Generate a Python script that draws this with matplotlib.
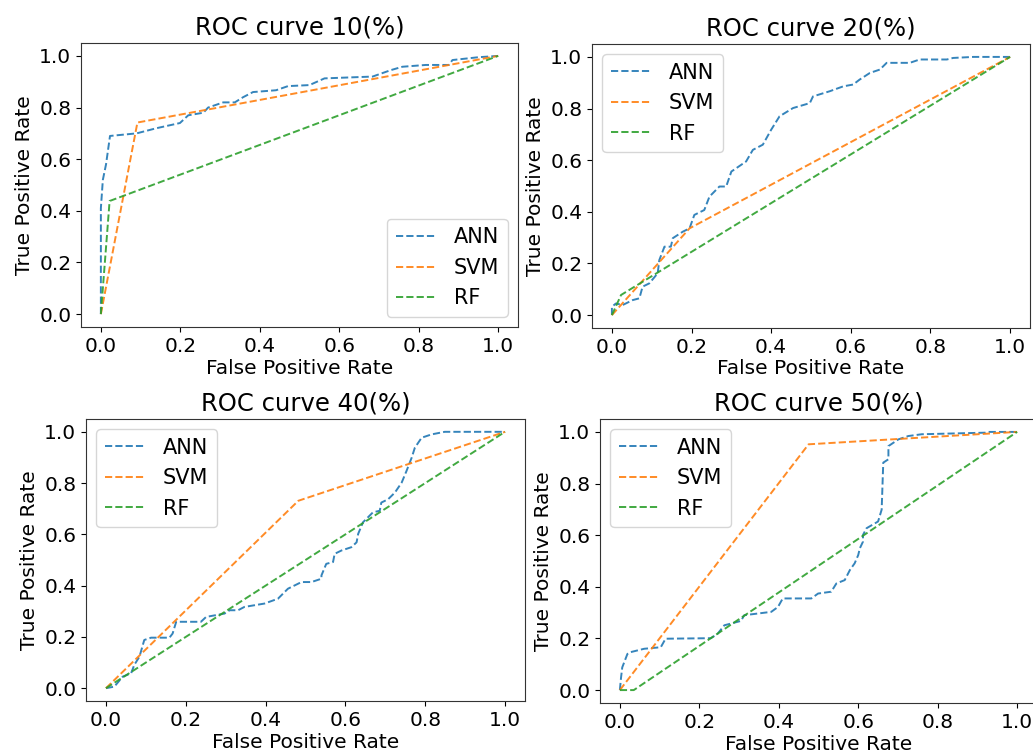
import numpy as np
import matplotlib
matplotlib.use('Agg')
from matplotlib import pyplot as plt

# ---- data (fpr, tpr) ----
titles = ['ROC curve 10(%)', 'ROC curve 20(%)', 'ROC curve 40(%)', 'ROC curve 50(%)']
models = ['ANN', 'SVM', 'RF']

ann10_fpr = [0.0, 0.0, 0.005, 0.013, 0.023, 0.090, 0.140, 0.199, 0.220, 0.258, 0.270, 0.308, 0.337,
             0.358, 0.383, 0.441, 0.471, 0.525, 0.563, 0.684, 0.730, 0.759, 0.818, 0.876, 0.885, 0.951, 1.0]
ann10_tpr = [0.0, 0.41, 0.52, 0.58, 0.69, 0.70, 0.72, 0.74, 0.77, 0.78, 0.80, 0.82, 0.82,
             0.84, 0.86, 0.867, 0.883, 0.887, 0.913, 0.92, 0.945, 0.958, 0.965, 0.965, 0.984, 0.995, 1.0]
svm10_fpr = [0.0, 0.092, 1.0]
svm10_tpr = [0.0, 0.742, 1.0]
rf10_fpr = [0.0, 0.022, 1.0]
rf10_tpr = [0.0, 0.438, 1.0]

ann20_fpr = [0.0, 0.0, 0.010, 0.027, 0.052, 0.069, 0.077, 0.094, 0.115, 0.119, 0.132, 0.148, 0.153,
             0.178, 0.195, 0.207, 0.232, 0.245, 0.270, 0.287, 0.300, 0.337, 0.354, 0.379, 0.400, 0.421,
             0.455, 0.497, 0.505, 0.547, 0.581, 0.606, 0.622, 0.648, 0.673, 0.690, 0.748, 0.773, 0.841,
             0.857, 0.908, 1.0]
ann20_tpr = [0.0, 0.032, 0.045, 0.039, 0.058, 0.065, 0.110, 0.123, 0.162, 0.213, 0.265, 0.265, 0.298,
             0.323, 0.336, 0.388, 0.407, 0.459, 0.498, 0.498, 0.556, 0.595, 0.640, 0.660, 0.718, 0.770,
             0.802, 0.821, 0.847, 0.867, 0.886, 0.893, 0.912, 0.938, 0.951, 0.977, 0.977, 0.990, 0.990,
             0.996, 1.0, 1.0]
svm20_fpr = [0.0, 0.195, 1.0]
svm20_tpr = [0.0, 0.336, 1.0]
rf20_fpr = [0.0, 0.023, 1.0]
rf20_tpr = [0.0, 0.078, 1.0]

ann40_fpr = [0.0, 0.021, 0.042, 0.063, 0.071, 0.084, 0.096, 0.113, 0.159, 0.167, 0.176, 0.238, 0.251,
             0.297, 0.310, 0.331, 0.347, 0.397, 0.431, 0.456, 0.490, 0.515, 0.540, 0.540, 0.552, 0.569,
             0.573, 0.590, 0.615, 0.628, 0.632, 0.644, 0.669, 0.686, 0.690, 0.707, 0.724, 0.741, 0.753,
             0.766, 0.774, 0.791, 0.816, 0.849, 1.0]
ann40_tpr = [0.0, 0.006, 0.045, 0.058, 0.091, 0.123, 0.188, 0.197, 0.197, 0.213, 0.259, 0.259, 0.278,
             0.291, 0.304, 0.304, 0.317, 0.330, 0.349, 0.388, 0.414, 0.414, 0.427, 0.440, 0.485, 0.492,
             0.524, 0.537, 0.550, 0.569, 0.602, 0.647, 0.686, 0.692, 0.724, 0.737, 0.763, 0.802, 0.847,
             0.899, 0.938, 0.977, 0.990, 1.0, 1.0]
svm40_fpr = [0.0, 0.482, 1.0]
svm40_tpr = [0.0, 0.731, 1.0]
rf40_fpr = [0.0, 1.0]
rf40_tpr = [0.0, 1.0]

ann50_fpr = [0.0, 0.003, 0.006, 0.019, 0.027, 0.061, 0.103, 0.115, 0.229, 0.246, 0.263, 0.305, 0.313,
             0.381, 0.398, 0.410, 0.482, 0.499, 0.532, 0.545, 0.566, 0.579, 0.591, 0.600, 0.604, 0.612,
             0.612, 0.621, 0.650, 0.659, 0.663, 0.676, 0.676, 0.701, 0.726, 0.760, 0.920, 0.928, 1.0]
ann50_tpr = [0.0, 0.049, 0.088, 0.140, 0.147, 0.160, 0.166, 0.199, 0.201, 0.218, 0.251, 0.268, 0.290,
             0.303, 0.322, 0.355, 0.355, 0.374, 0.381, 0.413, 0.426, 0.465, 0.491, 0.523, 0.549, 0.575,
             0.601, 0.627, 0.653, 0.699, 0.881, 0.894, 0.945, 0.971, 0.984, 0.991, 0.997, 1.0, 1.0]
svm50_fpr = [0.0, 0.475, 1.0]
svm50_tpr = [0.0, 0.952, 1.0]
rf50_fpr = [0.0, 0.035, 1.0]
rf50_tpr = [0.0, 0.0, 1.0]

curves = [
    [(ann10_fpr, ann10_tpr), (svm10_fpr, svm10_tpr), (rf10_fpr, rf10_tpr)],
    [(ann20_fpr, ann20_tpr), (svm20_fpr, svm20_tpr), (rf20_fpr, rf20_tpr)],
    [(ann40_fpr, ann40_tpr), (svm40_fpr, svm40_tpr), (rf40_fpr, rf40_tpr)],
    [(ann50_fpr, ann50_tpr), (svm50_fpr, svm50_tpr), (rf50_fpr, rf50_tpr)],
]
legend_locs = ['lower right', 'upper left', 'upper left', 'upper left']

W, H = 1033, 754
fig = plt.figure(figsize=(W / 100, H / 100), dpi=100)

# axes boxes in pixels: left, right, top, bottom
boxes = [(81, 518, 43, 327), (592, 1030, 44, 328), (86, 525, 419, 701), (600, 1037, 419, 703)]

for i, (l, r, t, b) in enumerate(boxes):
    ax = fig.add_axes([l / W, (H - b) / H, (r - l) / W, (b - t) / H])
    for name, (fx, ty) in zip(models, curves[i]):
        ax.plot(fx, ty, '--', lw=1.4, alpha=0.9, label=name)
    ax.set_xlim(-0.05, 1.05)
    ax.set_ylim(-0.05, 1.05)
    ax.set_xticks([0.0, 0.2, 0.4, 0.6, 0.8, 1.0])
    ax.set_yticks([0.0, 0.2, 0.4, 0.6, 0.8, 1.0])
    ax.tick_params(labelsize=14.5)
    for sp in ax.spines.values():
        sp.set_color('#333333')
    ax.set_xlabel('False Positive Rate', fontsize=14.5, labelpad=2)
    ax.set_ylabel('True Positive Rate', fontsize=14.5)
    ax.set_title(titles[i], fontsize=17.5)
    ax.legend(loc=legend_locs[i], fontsize=15)

plt.savefig('out.png', dpi=100)
